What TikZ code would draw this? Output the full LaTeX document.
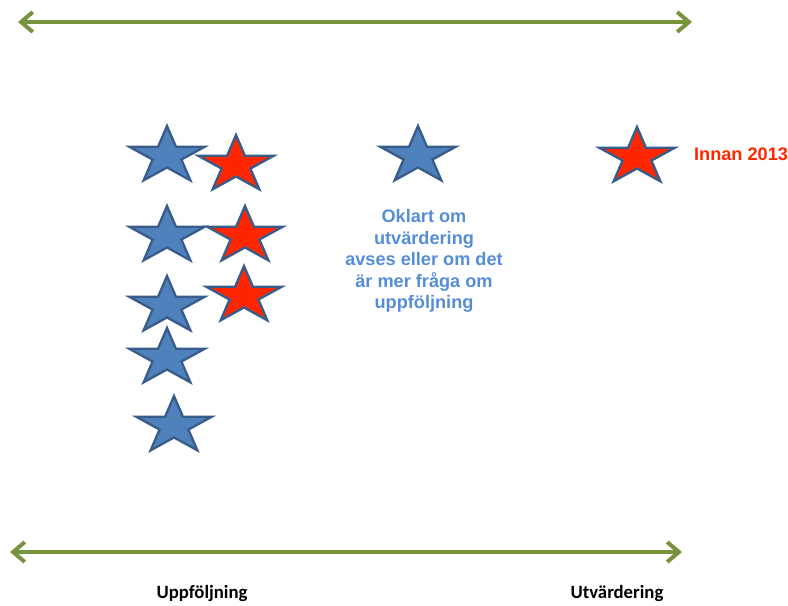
\documentclass[tikz,border=0pt]{standalone}
\usepackage{fontspec}
\setmainfont{Liberation Sans}
\newfontfamily\labelfont{Carlito}
\usetikzlibrary{arrows.meta}
\definecolor{axisgreen}{RGB}{119,147,60}
\definecolor{starblue}{RGB}{79,129,189}
\definecolor{starrim}{RGB}{56,93,138}
\definecolor{starred}{RGB}{255,38,0}
\definecolor{noteblue}{RGB}{85,142,213}
\tikzset{
  axis/.style={draw=axisgreen, line width=3.4pt,
    {Straight Barb[length=10pt,width=17pt]}-{Straight Barb[length=10pt,width=17pt]}},
  pics/bigstar/.style={code={
    \draw[draw=starrim, line width=2pt, fill=#1, x=1.19cm, y=0.90cm]
      (90:1) \foreach \k in {1,...,9}{ -- ({90+36*\k}:{1-0.618*mod(\k,2)}) } -- cycle;
  }},
  endlabel/.style={font=\labelfont\bfseries\fontsize{16}{19}\selectfont}
}
\begin{document}
\begin{tikzpicture}[x=0.03cm, y=-0.03cm]
    \useasboundingbox (0,0) rectangle (788,605);

    % the two axes
    \coordinate (topL) at (18,22);
    \coordinate (topR) at (692,22);
    \draw[axis] (topL) -- (topR);

    \coordinate (botL) at (10,552);
    \coordinate (botR) at (682,552);
    \draw[axis] (botL) -- (botR);

    % blue stars
    \foreach \x/\y in {167/156, 167/236, 167/306, 167/358, 174/426, 418/156}
      \pic at (\x,\y) {bigstar=starblue};

    % red stars
    \foreach \x/\y in {236/165, 245/236, 244/296, 637/157}
      \pic at (\x,\y) {bigstar=starred};

    \node[anchor=west, text=starred, font=\bfseries\fontsize{15.5}{18}\selectfont]
      (innan) at (690,154) {Innan 2013};

    \node[align=center, text=noteblue, font=\bfseries\fontsize{15.5}{18.4}\selectfont]
      (oklart) at (424,261) {Oklart om\\utvärdering\\avses eller om det\\är mer fråga om\\uppföljning};

    \node[endlabel] (uppf) at (202,593) {Uppföljning};
    \node[endlabel] (utv) at (617,593) {Utvärdering};
  \end{tikzpicture}
\end{document}
